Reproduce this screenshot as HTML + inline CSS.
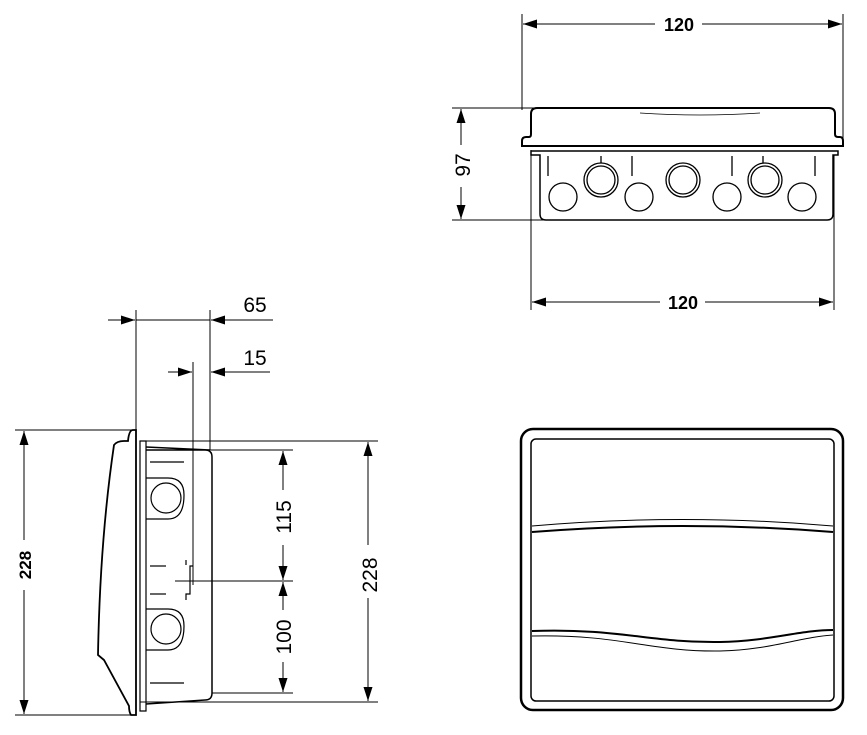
<!DOCTYPE html>
<html><head><style>html,body{margin:0;padding:0;background:#fff}svg{display:block}</style></head><body>
<svg width="867" height="735" viewBox="0 0 867 735" xmlns="http://www.w3.org/2000/svg" font-family="Liberation Sans, Arial, sans-serif">
<defs>
<marker id="a" viewBox="0 0 14 9" refX="14" refY="4.5" markerWidth="14" markerHeight="9" markerUnits="userSpaceOnUse" orient="auto-start-reverse"><path d="M0,0 L14,4.5 L0,9 z" fill="#000"/></marker>
</defs>
<g stroke="#000" fill="none">
<g stroke-width="1">
<line x1="522" y1="14" x2="522" y2="110"/>
<line x1="843" y1="14" x2="843" y2="140"/>
<line x1="523" y1="24" x2="655" y2="24" marker-start="url(#a)"/>
<line x1="702" y1="24" x2="842" y2="24" marker-end="url(#a)"/>
<line x1="452" y1="108" x2="535" y2="108"/>
<line x1="452" y1="220" x2="545" y2="220"/>
<line x1="461" y1="109" x2="461" y2="145" marker-start="url(#a)"/>
<line x1="461" y1="187" x2="461" y2="219" marker-end="url(#a)"/>
<line x1="531" y1="150" x2="531" y2="310"/>
<line x1="834" y1="155" x2="834" y2="310"/>
<line x1="532" y1="302" x2="660" y2="302" marker-start="url(#a)"/>
<line x1="705" y1="302" x2="833" y2="302" marker-end="url(#a)"/>
</g>
<path d="M522,146 L522,141 Q522,137 526,137 L529,137 Q531,137 531,134 L531,114 Q531,108 537,108 L829,108 Q835,108 835,114 L835,134 Q835,137 838,137 L840,137 Q843,137 843,141 L843,146 Z" stroke-width="2"/>
<path d="M640,113 Q700,117 760,113" stroke-width="0.8"/>
<path d="M531,155 L531,151 L838,151 L838,155 L833,155 L833,214 Q833,220 827,220 L546,220 Q540,220 540,214 L540,155 Z" stroke-width="1.5"/>
<g stroke-width="1.3">
<line x1="548" y1="156" x2="548" y2="176"/><line x1="632" y1="156" x2="632" y2="176"/>
<line x1="732" y1="156" x2="732" y2="176"/><line x1="815" y1="156" x2="815" y2="176"/>
<line x1="601" y1="156" x2="601" y2="163"/><line x1="763" y1="156" x2="763" y2="163"/>
<circle cx="563" cy="197" r="14"/><circle cx="639" cy="197" r="14"/>
<circle cx="727" cy="197" r="14"/><circle cx="802" cy="197" r="14"/>
<circle cx="601" cy="180" r="17"/><circle cx="601" cy="180" r="14"/>
<circle cx="683" cy="180" r="17"/><circle cx="683" cy="180" r="14"/>
<circle cx="765" cy="180" r="17"/><circle cx="765" cy="180" r="14"/>
</g>
<g stroke-width="1">
<line x1="136" y1="310" x2="136" y2="430"/>
<line x1="210" y1="310" x2="210" y2="450"/>
<line x1="108" y1="320" x2="135" y2="320" marker-end="url(#a)"/>
<line x1="136" y1="320" x2="210" y2="320"/>
<line x1="273" y1="320" x2="211" y2="320" marker-end="url(#a)"/>
<line x1="193" y1="362" x2="193" y2="585"/>
<line x1="168" y1="372" x2="192" y2="372" marker-end="url(#a)"/>
<line x1="270" y1="372" x2="211" y2="372" marker-end="url(#a)"/>
<line x1="15" y1="430" x2="135" y2="430"/>
<line x1="15" y1="715" x2="135" y2="715"/>
<line x1="24" y1="431" x2="24" y2="540" marker-start="url(#a)"/>
<line x1="24" y1="590" x2="24" y2="714" marker-end="url(#a)"/>
<line x1="140" y1="441" x2="378" y2="441"/>
<line x1="140" y1="702" x2="378" y2="702"/>
<line x1="368" y1="442" x2="368" y2="545" marker-start="url(#a)"/>
<line x1="368" y1="598" x2="368" y2="701" marker-end="url(#a)"/>
<line x1="210" y1="450" x2="293" y2="450"/>
<line x1="175" y1="581" x2="293" y2="581"/>
<line x1="212" y1="693" x2="293" y2="693"/>
<line x1="283" y1="451" x2="283" y2="490" marker-start="url(#a)"/>
<line x1="283" y1="545" x2="283" y2="580" marker-end="url(#a)"/>
<line x1="283" y1="582" x2="283" y2="610" marker-start="url(#a)"/>
<line x1="283" y1="662" x2="283" y2="692" marker-end="url(#a)"/>
</g>
<path d="M136,430 L136,715 L131,715 Q129,712 129,706 L104,660 L98,655 Q100,540 114,445 Q117,441 124,441 L128,441 Q129,430 133,430 Z" stroke-width="1.8"/>
<path d="M140,441 L140,711 L146,711 L146,441 Z" stroke-width="1.2"/>
<path d="M146,450 L205,450 Q212,450 212,457 L212,693 Q212,700 205,700 L146,704 M146,447 L210,450" stroke-width="1.5"/>
<g stroke-width="1.2">
<line x1="150" y1="462" x2="184" y2="462"/>
<line x1="150" y1="566" x2="166" y2="566"/>
<line x1="150" y1="594" x2="166" y2="594"/>
<line x1="150" y1="683" x2="184" y2="683"/>
<path d="M146,478 L168,478 Q184,478 184,495 Q184,519 168,519 L146,519"/>
<circle cx="166" cy="498" r="15"/>
<path d="M146,609 L168,609 Q184,609 184,626 Q184,650 168,650 L146,650"/>
<circle cx="166" cy="629" r="15"/>
<path d="M186,600 L186,594 L190,594 L190,566 L193,566"/>
<path d="M186,565 L186,560"/>
</g>
<rect x="521" y="429" width="322" height="281" rx="12" stroke-width="2.5"/>
<rect x="531" y="439" width="303" height="262" rx="5" stroke-width="1.5"/>
<path d="M532,526 Q683,513 833,526" stroke-width="1"/>
<path d="M532,532 Q683,520 833,532" stroke-width="2"/>
<path d="M532,631 C620,628 650,643 720,642 C770,641 800,630 833,630" stroke-width="2"/>
<path d="M532,636 C620,634 650,652 720,651 C770,650 800,637 833,635" stroke-width="1"/>
</g>
<g font-size="21" fill="#000" text-anchor="middle">
<text x="679" y="31" font-weight="bold" font-size="18">120</text>
<text x="683" y="309" font-weight="bold" font-size="18">120</text>
<text x="255" y="312">65</text>
<text x="255" y="365">15</text>
<text transform="translate(470,165) rotate(-90)">97</text>
<text transform="translate(31,565) rotate(-90)" font-weight="bold" font-size="17">228</text>
<text transform="translate(377,575) rotate(-90)">228</text>
<text transform="translate(291,517) rotate(-90)">115</text>
<text transform="translate(291,637) rotate(-90)">100</text>
</g>
</svg>
</body></html>
